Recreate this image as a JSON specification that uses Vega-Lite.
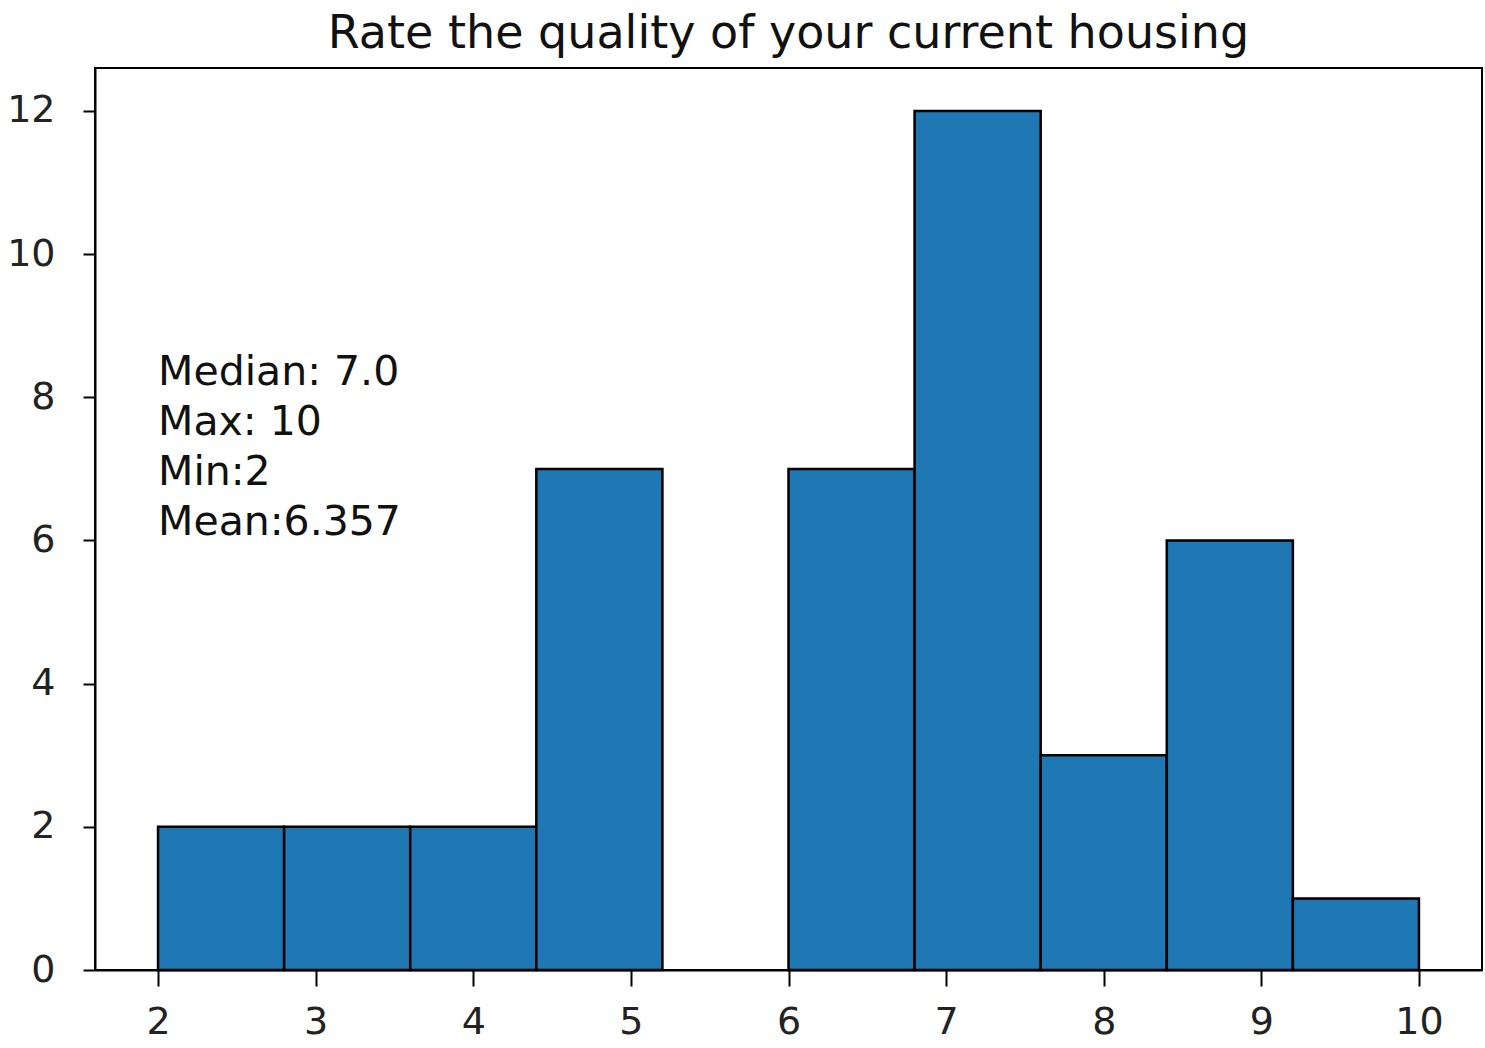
{
  "$schema": "https://vega.github.io/schema/vega-lite/v6.json",
  "autosize": "none",
  "width": 1387,
  "height": 902,
  "padding": {"left": 95, "top": 68, "right": 3, "bottom": 78},
  "background": "white",
  "config": {
    "font": "DejaVu Sans",
    "view": {"stroke": "black", "strokeWidth": 2},
    "axis": {
      "grid": false,
      "domainColor": "black",
      "domainWidth": 2,
      "tickColor": "black",
      "tickWidth": 2,
      "labelFont": "DejaVu Sans",
      "labelFontSize": 38,
      "labelColor": "#222222",
      "title": null
    },
    "axisX": {"tickSize": 16, "labelPadding": 17},
    "axisY": {"tickSize": 12, "labelPadding": 28}
  },
  "title": {
    "text": "Rate the quality of your current housing",
    "font": "DejaVu Sans",
    "fontSize": 46,
    "fontWeight": "normal",
    "color": "#111111",
    "anchor": "middle",
    "offset": 10
  },
  "data": {
    "values": [
      {"bin_start": 2.0, "bin_end": 2.8, "count": 2},
      {"bin_start": 2.8, "bin_end": 3.6, "count": 2},
      {"bin_start": 3.6, "bin_end": 4.4, "count": 2},
      {"bin_start": 4.4, "bin_end": 5.2, "count": 7},
      {"bin_start": 5.2, "bin_end": 6.0, "count": 0},
      {"bin_start": 6.0, "bin_end": 6.8, "count": 7},
      {"bin_start": 6.8, "bin_end": 7.6, "count": 12},
      {"bin_start": 7.6, "bin_end": 8.4, "count": 3},
      {"bin_start": 8.4, "bin_end": 9.2, "count": 6},
      {"bin_start": 9.2, "bin_end": 10.0, "count": 1}
    ]
  },
  "layer": [
    {
      "transform": [{"filter": "datum.count > 0"}],
      "mark": {"type": "rect", "fill": "#1f77b4", "stroke": "black", "strokeWidth": 2.5},
      "encoding": {
        "x": {
          "field": "bin_start",
          "type": "quantitative",
          "scale": {"domain": [1.6, 10.4], "nice": false, "zero": false},
          "axis": {"values": [2, 3, 4, 5, 6, 7, 8, 9, 10], "format": "d"}
        },
        "x2": {"field": "bin_end"},
        "y": {
          "field": "count",
          "type": "quantitative",
          "scale": {"domain": [0, 12.6], "nice": false},
          "axis": {"values": [0, 2, 4, 6, 8, 10, 12], "format": "d"}
        },
        "y2": {"datum": 0}
      }
    },
    {
      "data": {"values": [{"lx": 2.0, "ly": 6.0, "label": "Median: 7.0\nMax: 10\nMin:2\nMean:6.357"}]},
      "mark": {
        "type": "text",
        "align": "left",
        "baseline": "alphabetic",
        "lineBreak": "\n",
        "lineHeight": 50,
        "dy": -155,
        "font": "DejaVu Sans",
        "fontSize": 41,
        "color": "#111111"
      },
      "encoding": {
        "x": {"field": "lx", "type": "quantitative"},
        "y": {"field": "ly", "type": "quantitative"},
        "text": {"field": "label"}
      }
    }
  ]
}
